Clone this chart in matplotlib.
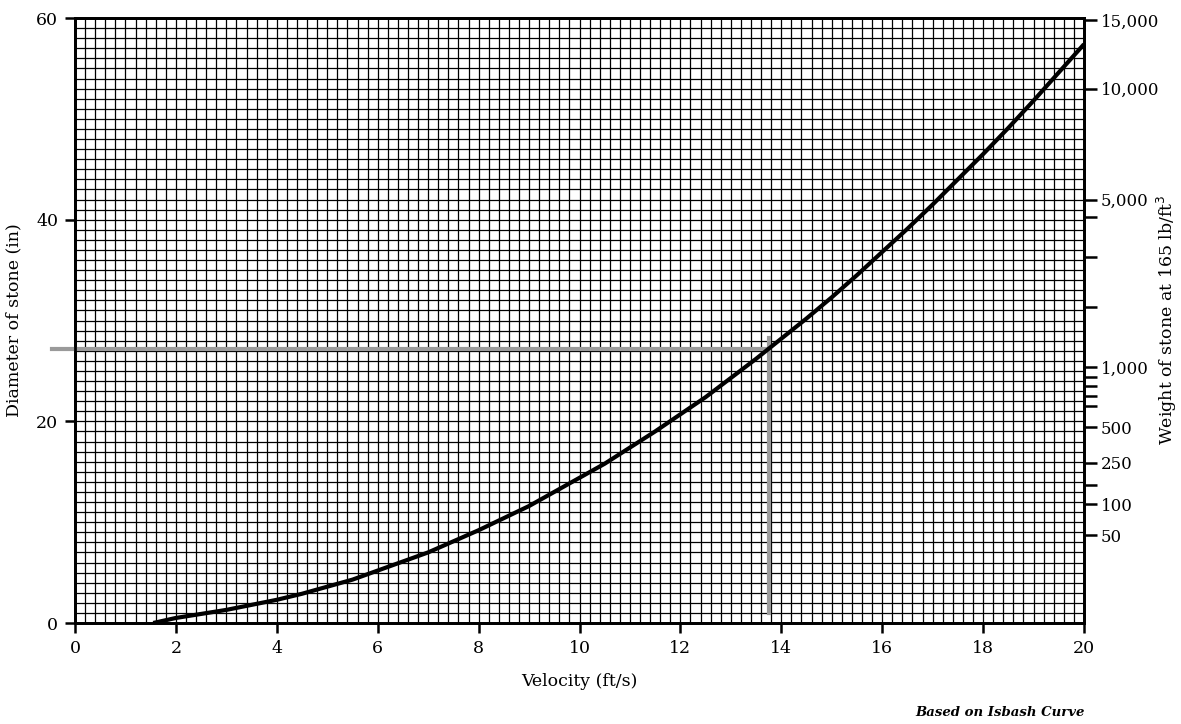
import matplotlib
matplotlib.use('Agg')
import matplotlib.pyplot as plt
import numpy as np

# Isbash curve: velocity (ft/s) -> stone diameter (in)
velocity = [1.55, 2, 2.5, 3, 3.5, 4, 4.5, 5, 5.5, 6, 6.5, 7, 7.5, 8, 8.5, 9,
            9.5, 10, 10.5, 11, 11.5, 12, 12.5, 13, 13.5, 14, 14.5, 15, 15.5,
            16, 16.5, 17, 17.5, 18, 18.5, 19, 19.5, 20]
diameter = [0.0, 0.5, 0.9, 1.3, 1.8, 2.3, 2.9, 3.6, 4.3, 5.2, 6.1, 7.0, 8.1,
            9.2, 10.4, 11.6, 13.0, 14.4, 15.8, 17.4, 19.0, 20.7, 22.4, 24.3,
            26.2, 28.2, 30.2, 32.3, 34.5, 36.8, 39.1, 41.5, 44.0, 46.5, 49.1,
            51.8, 54.6, 57.4]

# worked example drawn in grey
ref_velocity = 13.76
ref_diameter = 27.2
ref_start_v = -0.45
ref_bottom_d = 1.0

# right axis: weight labels placed at their diameter positions
weight_pos = [59.8, 53.0, 42.0, 40.3, 36.3, 31.3, 25.4, 24.4, 23.5, 22.5,
              21.5, 19.4, 15.9, 13.7, 11.8, 8.7]
weight_labels = ['15,000', '10,000', '5,000', '', '', '', '1,000', '', '', '',
                 '', '500', '250', '', '100', '50']

x_ticks = list(range(0, 21, 2))
y_ticks = [0, 20, 40, 60]

plt.rcParams['font.family'] = ['DejaVu Serif']

fig = plt.figure(figsize=(11.81, 7.24), dpi=100)
ax = fig.add_axes([75 / 1181, 1 - 623 / 724, 1009 / 1181, 605 / 724])

ax.set_xlim(0, 20)
ax.set_ylim(0, 60)
ax.set_xticks(x_ticks)
ax.set_yticks(y_ticks)
ax.set_xticks(np.arange(0, 20.01, 0.2), minor=True)
ax.set_yticks(np.arange(0, 60.01, 1), minor=True)
ax.grid(which='both', color='black', linewidth=0.9)
ax.set_axisbelow(True)
ax.tick_params(which='minor', length=0)
ax.tick_params(which='major', direction='out', length=7, width=1.8,
               labelsize=12.5, pad=5)
for s in ax.spines.values():
    s.set_linewidth(2)

# grey reference lines
ax.plot([ref_start_v, ref_velocity], [ref_diameter, ref_diameter],
        color='#9a9a9a', lw=3, clip_on=False, zorder=3)
ax.plot([ref_velocity, ref_velocity], [ref_bottom_d, ref_diameter + 1.1],
        color='#9a9a9a', lw=3, zorder=3)

ax.plot(velocity, diameter, color='black', lw=3, solid_capstyle='butt',
        solid_joinstyle='round', zorder=4)

ax.set_xlabel('Velocity (ft/s)', fontsize=12.5, labelpad=12)
ax.set_ylabel('Diameter of stone (in)', fontsize=12.5, labelpad=10)

ax2 = ax.twinx()
ax2.set_ylim(0, 60)
ax2.set_yticks(weight_pos)
ax2.set_yticklabels(weight_labels)
ax2.tick_params(direction='out', length=9, width=1.8, labelsize=12, pad=3)
for s in ax2.spines.values():
    s.set_linewidth(2)

fig.text(1167 / 1181, 1 - 320 / 724, 'Weight of stone at 165 lb/ft$^3$',
         rotation=90, ha='center', va='center', fontsize=12.5)

fig.text(1085 / 1181, 1 - 712 / 724, 'Based on Isbash Curve', ha='right',
         va='center', fontsize=9.5, style='italic', weight='bold')

fig.savefig('out.png', dpi=100)
